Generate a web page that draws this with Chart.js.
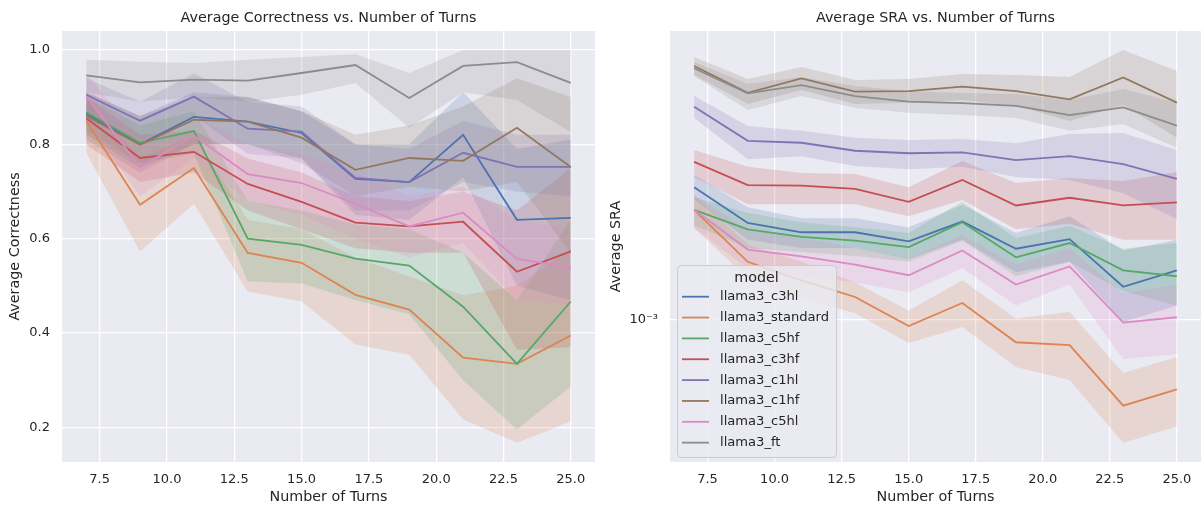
<!DOCTYPE html>
<html>
<head>
<meta charset="utf-8">
<script src="https://cdn.jsdelivr.net/npm/chart.js@4.4.1/dist/chart.umd.min.js"></script>
<style>
  body { margin: 0; background: #fff; }
  #wrap { position: relative; width: 1203px; height: 511px; }
  canvas { position: absolute; top: 0; }
</style>
</head>
<body>
<div id="wrap">
  <canvas id="graficoCorrect" width="600" height="511" style="left:0"></canvas>
  <canvas id="graficoSra" width="603" height="511" style="left:600px"></canvas>
</div>
<script>
// Datos
const turns = [7, 9, 11, 13, 15, 17, 19, 21, 23, 25];
const modelos = ["llama3_c3hl", "llama3_standard", "llama3_c5hf", "llama3_c3hf", "llama3_c1hl", "llama3_c1hf", "llama3_c5hl", "llama3_ft"];
const colores = ["#4C72B0", "#DD8452", "#55A868", "#C44E52", "#8172B3", "#937860", "#DA8BC3", "#8C8C8C"];

const xTicks = [7.5, 10, 12.5, 15, 17.5, 20, 22.5, 25];
const corrTicks = [0.2, 0.4, 0.6, 0.8, 1.0];
const sraTicks = [1e-3];

// Average Correctness (media, limite inferior, limite superior)
const corrC3hl = [0.865, 0.800, 0.858, 0.848, 0.824, 0.727, 0.720, 0.820, 0.640, 0.644];
const corrC3hlLo = [0.82, 0.75, 0.80, 0.80, 0.77, 0.65, 0.64, 0.73, 0.50, 0.47];
const corrC3hlHi = [0.91, 0.86, 0.91, 0.90, 0.87, 0.80, 0.80, 0.91, 0.79, 0.81];

const corrStandard = [0.850, 0.672, 0.750, 0.570, 0.549, 0.481, 0.450, 0.348, 0.335, 0.395];
const corrStandardLo = [0.782, 0.573, 0.674, 0.488, 0.467, 0.376, 0.354, 0.217, 0.168, 0.213];
const corrStandardHi = [0.90, 0.77, 0.82, 0.64, 0.62, 0.56, 0.52, 0.48, 0.50, 0.58];

const corrC5hf = [0.868, 0.803, 0.828, 0.600, 0.587, 0.558, 0.543, 0.456, 0.335, 0.467];
const corrC5hfLo = [0.83, 0.76, 0.78, 0.51, 0.505, 0.47, 0.44, 0.30, 0.196, 0.287];
const corrC5hfHi = [0.90, 0.84, 0.87, 0.68, 0.66, 0.63, 0.62, 0.57, 0.47, 0.64];

const corrC3hf = [0.855, 0.771, 0.784, 0.716, 0.678, 0.634, 0.626, 0.636, 0.530, 0.573];
const corrC3hfLo = [0.80, 0.72, 0.74, 0.66, 0.62, 0.58, 0.57, 0.57, 0.365, 0.37];
const corrC3hfHi = [0.90, 0.82, 0.83, 0.77, 0.74, 0.69, 0.68, 0.70, 0.66, 0.75];

const corrC1hl = [0.905, 0.850, 0.901, 0.833, 0.827, 0.729, 0.720, 0.782, 0.752, 0.752];
const corrC1hlLo = [0.87, 0.80, 0.86, 0.78, 0.77, 0.66, 0.66, 0.72, 0.70, 0.69];
const corrC1hlHi = [0.94, 0.89, 0.95, 0.89, 0.88, 0.80, 0.79, 0.85, 0.82, 0.82];

const corrC1hf = [0.860, 0.799, 0.852, 0.848, 0.814, 0.746, 0.771, 0.765, 0.835, 0.752];
const corrC1hfLo = [0.81, 0.74, 0.80, 0.80, 0.76, 0.69, 0.71, 0.70, 0.72, 0.57];
const corrC1hfHi = [0.91, 0.86, 0.90, 0.90, 0.87, 0.82, 0.84, 0.88, 0.94, 0.90];

const corrC5hl = [0.902, 0.752, 0.818, 0.737, 0.718, 0.674, 0.626, 0.655, 0.557, 0.539];
const corrC5hlLo = [0.85, 0.69, 0.77, 0.68, 0.65, 0.60, 0.56, 0.59, 0.47, 0.46];
const corrC5hlHi = [0.95, 0.81, 0.86, 0.80, 0.78, 0.74, 0.69, 0.71, 0.64, 0.62];

const corrFt = [0.946, 0.931, 0.937, 0.935, 0.951, 0.968, 0.898, 0.966, 0.974, 0.930];
const corrFtLo = [0.91, 0.89, 0.90, 0.89, 0.905, 0.93, 0.835, 0.91, 0.894, 0.826];
const corrFtHi = [0.979, 0.975, 0.972, 0.979, 0.985, 0.991, 0.951, 1.0, 1.0, 1.0];

// Average SRA (escala log)
const sraC3hl = [2.60e-3, 2.01e-3, 1.88e-3, 1.88e-3, 1.76e-3, 2.03e-3, 1.67e-3, 1.79e-3, 1.27e-3, 1.43e-3];
const sraC3hlLo = [2.39e-3, 1.78e-3, 1.68e-3, 1.68e-3, 1.55e-3, 1.78e-3, 1.41e-3, 1.52e-3, 0.986e-3, 1.11e-3];
const sraC3hlHi = [2.84e-3, 2.25e-3, 2.08e-3, 2.08e-3, 1.95e-3, 2.29e-3, 1.87e-3, 2.11e-3, 1.65e-3, 1.78e-3];

const sraStandard = [2.21e-3, 1.52e-3, 1.33e-3, 1.18e-3, 0.958e-3, 1.13e-3, 0.852e-3, 0.835e-3, 0.540e-3, 0.607e-3];
const sraStandardLo = [1.94e-3, 1.35e-3, 1.17e-3, 1.05e-3, 0.847e-3, 0.951e-3, 0.713e-3, 0.650e-3, 0.413e-3, 0.466e-3];
const sraStandardHi = [2.46e-3, 1.72e-3, 1.52e-3, 1.31e-3, 1.07e-3, 1.33e-3, 1.01e-3, 1.06e-3, 0.683e-3, 0.766e-3];

const sraC5hf = [2.21e-3, 1.92e-3, 1.82e-3, 1.77e-3, 1.69e-3, 2.02e-3, 1.57e-3, 1.74e-3, 1.43e-3, 1.37e-3];
const sraC5hfLo = [1.98e-3, 1.68e-3, 1.63e-3, 1.585e-3, 1.52e-3, 1.77e-3, 1.37e-3, 1.52e-3, 1.23e-3, 1.11e-3];
const sraC5hfHi = [2.42e-3, 2.16e-3, 2.02e-3, 1.95e-3, 1.87e-3, 2.34e-3, 1.80e-3, 1.97e-3, 1.67e-3, 1.74e-3];

const sraC3hf = [3.12e-3, 2.64e-3, 2.63e-3, 2.57e-3, 2.34e-3, 2.74e-3, 2.28e-3, 2.41e-3, 2.28e-3, 2.33e-3];
const sraC3hfLo = [2.80e-3, 2.30e-3, 2.30e-3, 2.30e-3, 2.11e-3, 2.37e-3, 1.92e-3, 2.00e-3, 1.78e-3, 1.78e-3];
const sraC3hfHi = [3.40e-3, 3.01e-3, 2.88e-3, 2.86e-3, 2.60e-3, 3.14e-3, 2.68e-3, 2.78e-3, 2.72e-3, 2.90e-3];

const sraC1hl = [4.64e-3, 3.63e-3, 3.58e-3, 3.38e-3, 3.32e-3, 3.34e-3, 3.16e-3, 3.25e-3, 3.07e-3, 2.76e-3];
const sraC1hlLo = [4.28e-3, 3.18e-3, 3.25e-3, 3.03e-3, 2.96e-3, 3.01e-3, 2.80e-3, 2.74e-3, 2.49e-3, 2.07e-3];
const sraC1hlHi = [5.01e-3, 4.04e-3, 3.90e-3, 3.71e-3, 3.65e-3, 3.68e-3, 3.57e-3, 3.81e-3, 3.84e-3, 3.40e-3];

const sraC1hf = [6.22e-3, 5.13e-3, 5.69e-3, 5.17e-3, 5.19e-3, 5.36e-3, 5.19e-3, 4.89e-3, 5.73e-3, 4.78e-3];
const sraC1hfLo = [5.83e-3, 4.73e-3, 5.23e-3, 4.73e-3, 4.77e-3, 4.87e-3, 4.67e-3, 4.19e-3, 4.70e-3, 3.71e-3];
const sraC1hfHi = [6.64e-3, 5.66e-3, 6.17e-3, 5.62e-3, 5.66e-3, 5.87e-3, 5.83e-3, 5.75e-3, 6.98e-3, 6.00e-3];

const sraC5hl = [2.21e-3, 1.66e-3, 1.58e-3, 1.49e-3, 1.38e-3, 1.65e-3, 1.29e-3, 1.47e-3, 0.981e-3, 1.02e-3];
const sraC5hlLo = [1.94e-3, 1.45e-3, 1.37e-3, 1.31e-3, 1.22e-3, 1.45e-3, 1.11e-3, 1.29e-3, 0.755e-3, 0.783e-3];
const sraC5hlHi = [2.46e-3, 1.91e-3, 1.80e-3, 1.68e-3, 1.56e-3, 1.84e-3, 1.49e-3, 1.68e-3, 1.21e-3, 1.29e-3];

const sraFt = [6.12e-3, 5.11e-3, 5.42e-3, 5.01e-3, 4.81e-3, 4.76e-3, 4.67e-3, 4.37e-3, 4.62e-3, 4.05e-3];
const sraFtLo = [5.79e-3, 4.53e-3, 5.01e-3, 4.60e-3, 4.44e-3, 4.37e-3, 4.28e-3, 3.90e-3, 4.10e-3, 3.45e-3];
const sraFtHi = [6.40e-3, 5.47e-3, 5.75e-3, 5.39e-3, 5.19e-3, 5.12e-3, 5.08e-3, 4.87e-3, 5.27e-3, 4.77e-3];

Chart.defaults.font.family = "'DejaVu Sans', sans-serif";
Chart.defaults.color = "#262626";

function rgba(hex, a) {
    const n = parseInt(hex.slice(1), 16);
    return `rgba(${(n >> 16) & 255}, ${(n >> 8) & 255}, ${n & 255}, ${a})`;
}

function puntos(valores) {
    return turns.map((t, k) => ({ x: t, y: valores[k] }));
}

// banda (hi, lo con fill '-1') + linea media para cada modelo
function armarDatasets(medias, bajos, altos) {
    const ds = [];
    modelos.forEach((m, i) => {
        ds.push({
            label: m + " hi", data: puntos(altos[i]),
            borderColor: "rgba(0,0,0,0)", borderWidth: 0, pointRadius: 0, fill: false,
            order: 20 + (7 - i)
        });
        ds.push({
            label: m + " lo", data: puntos(bajos[i]),
            borderColor: "rgba(0,0,0,0)", borderWidth: 0, pointRadius: 0,
            fill: "-1", backgroundColor: rgba(colores[i], 0.2),
            order: 20 + (7 - i)
        });
        ds.push({
            label: m, data: puntos(medias[i]),
            borderColor: colores[i], borderWidth: 1.8, pointRadius: 0, fill: false,
            tension: 0, order: 7 - i
        });
    });
    return ds;
}

const fondoEjes = {
    id: "fondoEjes",
    beforeDraw(chart) {
        const { ctx, chartArea: a } = chart;
        ctx.save();
        ctx.fillStyle = "#EAEAF2";
        ctx.fillRect(a.left, a.top, a.right - a.left, a.bottom - a.top);
        ctx.restore();
    }
};

const tituloEjes = {
    id: "tituloEjes",
    afterDraw(chart, args, opts) {
        const { ctx, chartArea: a } = chart;
        ctx.save();
        ctx.font = "14.3px 'DejaVu Sans'";
        ctx.fillStyle = "#262626";
        ctx.textAlign = "center";
        ctx.textBaseline = "middle";
        ctx.fillText(opts.text, (a.left + a.right) / 2, 18);
        ctx.restore();
    }
};

const leyendaModelos = {
    id: "leyendaModelos",
    afterDatasetsDraw(chart) {
        const ctx = chart.ctx;
        const x0 = 77, y0 = 265, w = 159, h = 192;
        ctx.save();
        ctx.beginPath();
        ctx.roundRect(x0 + 0.5, y0 + 0.5, w, h, 4);
        ctx.fillStyle = "rgba(234, 234, 242, 0.8)";
        ctx.fill();
        ctx.strokeStyle = "#CCCCCC";
        ctx.lineWidth = 1;
        ctx.stroke();

        ctx.fillStyle = "#262626";
        ctx.textBaseline = "middle";
        ctx.textAlign = "center";
        ctx.font = "14.3px 'DejaVu Sans'";
        ctx.fillText("model", x0 + w / 2, 278);

        ctx.textAlign = "left";
        ctx.font = "13.1px 'DejaVu Sans'";
        modelos.forEach((m, i) => {
            const y = 296.7 + i * 20.85;
            ctx.strokeStyle = colores[i];
            ctx.lineWidth = 1.8;
            ctx.beginPath();
            ctx.moveTo(82, y);
            ctx.lineTo(109, y);
            ctx.stroke();
            ctx.fillText(m, 120, y);
        });
        ctx.restore();
    }
};

function ejeX() {
    return {
        type: "linear", min: 6.1, max: 25.9,
        afterBuildTicks: s => { s.ticks = xTicks.map(v => ({ value: v })); },
        afterFit: s => { s.height = 49; },
        grid: { color: "#ffffff", lineWidth: 1.3, drawTicks: false },
        border: { display: false },
        ticks: { padding: 10, font: { size: 13 }, autoSkip: false, maxRotation: 0, callback: v => v.toFixed(1) },
        title: { display: true, text: "Number of Turns", font: { size: 14.3 }, padding: { top: 0, bottom: 5 } }
    };
}

new Chart(document.getElementById("graficoCorrect"), {
    type: "line",
    data: {
        datasets: armarDatasets(
            [corrC3hl, corrStandard, corrC5hf, corrC3hf, corrC1hl, corrC1hf, corrC5hl, corrFt],
            [corrC3hlLo, corrStandardLo, corrC5hfLo, corrC3hfLo, corrC1hlLo, corrC1hfLo, corrC5hlLo, corrFtLo],
            [corrC3hlHi, corrStandardHi, corrC5hfHi, corrC3hfHi, corrC1hlHi, corrC1hfHi, corrC5hlHi, corrFtHi]
        )
    },
    options: {
        responsive: false,
        animation: false,
        layout: { padding: { top: 31, right: 5, left: 0, bottom: 0 } },
        plugins: {
            legend: { display: false },
            tooltip: { enabled: false },
            tituloEjes: { text: "Average Correctness vs. Number of Turns" }
        },
        scales: {
            x: ejeX(),
            y: {
                type: "linear", min: 0.127, max: 1.04,
                afterBuildTicks: s => { s.ticks = corrTicks.map(v => ({ value: v })); },
                afterFit: s => { s.width = 62; },
                grid: { color: "#ffffff", lineWidth: 1.3, drawTicks: false },
                border: { display: false },
                ticks: { padding: 12, font: { size: 13 }, callback: v => v.toFixed(1) },
                title: { display: true, text: "Average Correctness", font: { size: 14.3 }, padding: { top: 7, bottom: 0 } }
            }
        }
    },
    plugins: [fondoEjes, tituloEjes]
});

new Chart(document.getElementById("graficoSra"), {
    type: "line",
    data: {
        datasets: armarDatasets(
            [sraC3hl, sraStandard, sraC5hf, sraC3hf, sraC1hl, sraC1hf, sraC5hl, sraFt],
            [sraC3hlLo, sraStandardLo, sraC5hfLo, sraC3hfLo, sraC1hlLo, sraC1hfLo, sraC5hlLo, sraFtLo],
            [sraC3hlHi, sraStandardHi, sraC5hfHi, sraC3hfHi, sraC1hlHi, sraC1hfHi, sraC5hlHi, sraFtHi]
        )
    },
    options: {
        responsive: false,
        animation: false,
        layout: { padding: { top: 31, right: 2, left: 0, bottom: 0 } },
        plugins: {
            legend: { display: false },
            tooltip: { enabled: false },
            tituloEjes: { text: "Average SRA vs. Number of Turns" }
        },
        scales: {
            x: ejeX(),
            y: {
                type: "logarithmic", min: 3.6e-4, max: 8.0e-3,
                afterBuildTicks: s => { s.ticks = sraTicks.map(v => ({ value: v })); },
                afterFit: s => { s.width = 70; },
                grid: { color: "#ffffff", lineWidth: 1.3, drawTicks: false },
                border: { display: false },
                ticks: { padding: 12, font: { size: 13 }, callback: () => "10\u207B\u00B3" },
                title: { display: true, text: "Average SRA", font: { size: 14.3 }, padding: { top: 8, bottom: 0 } }
            }
        }
    },
    plugins: [fondoEjes, tituloEjes, leyendaModelos]
});
</script>
</body>
</html>
